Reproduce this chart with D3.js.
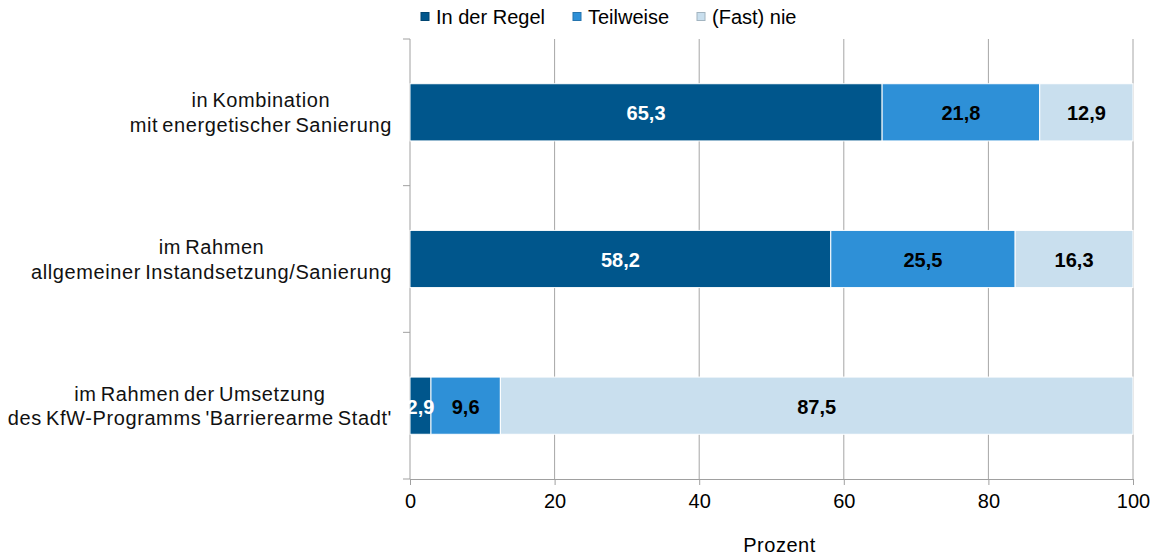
<!DOCTYPE html>
<html>
<head>
<meta charset="utf-8">
<script src="https://cdn.jsdelivr.net/npm/d3@7"></script>
<style>
  html, body { margin: 0; padding: 0; background: #fff; }
  svg { display: block; font-family: "Liberation Sans", Arial, sans-serif; }
</style>
</head>
<body>
<svg id="chart" width="1158" height="555"></svg>
<script>
// Categories (each label split into two lines)
const categories = [
  ["in Kombination", "mit energetischer Sanierung"],
  ["im Rahmen", "allgemeiner Instandsetzung/Sanierung"],
  ["im Rahmen der Umsetzung", "des KfW-Programms 'Barrierearme Stadt'"]
];
const seriesNames = ["In der Regel", "Teilweise", "(Fast) nie"];
const inDerRegel = [65.3, 58.2, 2.9];
const teilweise = [21.8, 25.5, 9.6];
const fastNie = [12.9, 16.3, 87.5];
const xTicks = [0, 20, 40, 60, 80, 100];
const colors = ["#00568c", "#2e90d7", "#c9dfee"];
const labelColors = ["#ffffff", "#000000", "#000000"];

const svg = d3.select("#chart");
const margin = { left: 410, right: 25, top: 39, bottom: 76 };
const W = 1158, H = 555;

const x = d3.scaleLinear().domain([0, 100]).range([margin.left, W - margin.right]);
const y = d3.scaleBand().domain(d3.range(categories.length))
  .range([margin.top, H - margin.bottom]).paddingInner(0.61).paddingOuter(0.305);

const rows = categories.map((c, i) => ({ i, values: [inDerRegel[i], teilweise[i], fastNie[i]] }));
const stacked = d3.stack().keys([0, 1, 2]).value((d, k) => d.values[k])(rows);

// vertical gridlines
svg.append("g").selectAll("line").data(xTicks.filter(t => t > 0)).join("line")
  .attr("x1", d => x(d)).attr("x2", d => x(d))
  .attr("y1", margin.top).attr("y2", H - margin.bottom)
  .attr("stroke", "#a6a6a6").attr("stroke-width", 1);

// x axis
const xAxis = svg.append("g").attr("transform", `translate(0,${H - margin.bottom})`)
  .call(d3.axisBottom(x).tickValues(xTicks).tickSize(6).tickSizeOuter(0).tickPadding(9).tickFormat(d3.format("d")));
xAxis.select(".domain").attr("stroke", "#a0a0a0");
xAxis.selectAll(".tick line").attr("stroke", "#a0a0a0");
xAxis.selectAll(".tick text").attr("font-size", 20).attr("fill", "#000")
  .attr("font-family", "Liberation Sans, Arial, sans-serif");

// y axis line with boundary ticks
const yTop = margin.top, yBot = H - margin.bottom;
const step = (yBot - yTop) / categories.length;
svg.append("line").attr("x1", x(0)).attr("x2", x(0)).attr("y1", yTop).attr("y2", yBot)
  .attr("stroke", "#a0a0a0");
svg.append("g").selectAll("line").data(d3.range(categories.length + 1)).join("line")
  .attr("x1", x(0) - 7).attr("x2", x(0))
  .attr("y1", d => yTop + d * step).attr("y2", d => yTop + d * step)
  .attr("stroke", "#a0a0a0");

// category labels: block right-aligned next to the axis, lines centred within the block
const labelRight = 392;
const catG = svg.append("g");
categories.forEach((lines, i) => {
  const cy = y(i) + y.bandwidth() / 2;
  const t = catG.append("text").attr("text-anchor", "middle")
    .attr("font-size", 20).attr("fill", "#111")
    .attr("letter-spacing", "0.6").attr("word-spacing", "-2");
  const spans = lines.map((ln, j) =>
    t.append("tspan").attr("y", cy - 5 + j * 24.5).text(ln));
  const maxW = d3.max(spans, s => s.node().getComputedTextLength());
  spans.forEach(s => s.attr("x", labelRight - maxW / 2));
});

// bars
const layers = svg.append("g").selectAll("g").data(stacked).join("g")
  .attr("fill", (d, k) => colors[k]);
layers.selectAll("rect").data(d => d).join("rect")
  .attr("x", d => x(d[0]))
  .attr("width", d => x(d[1]) - x(d[0]))
  .attr("y", d => y(d.data.i))
  .attr("height", y.bandwidth())
  .attr("stroke", "#ffffff").attr("stroke-width", 1);

// value labels
stacked.forEach((layer, k) => {
  svg.append("g").selectAll("text").data(layer).join("text")
    .attr("x", d => (x(d[0]) + x(d[1])) / 2)
    .attr("y", d => y(d.data.i) + y.bandwidth() / 2 + 8)
    .attr("text-anchor", "middle")
    .attr("font-size", 20).attr("font-weight", "bold")
    .attr("fill", labelColors[k])
    .text(d => d3.format(".1f")(d.data.values[k]).replace(".", ","));
});

// x axis title
svg.append("text").attr("x", (x(0) + x(100)) / 2 + 8).attr("y", 552)
  .attr("text-anchor", "middle").attr("font-size", 20).attr("fill", "#000")
  .attr("letter-spacing", "0.5")
  .text("Prozent");

// legend
const legendX = [421, 573, 697];
const lg = svg.append("g");
seriesNames.forEach((name, k) => {
  lg.append("rect").attr("x", legendX[k]).attr("y", 12.5).attr("width", 8).attr("height", 8)
    .attr("fill", colors[k]).attr("stroke", d3.color(colors[k]).darker(0.6)).attr("stroke-width", 1);
  lg.append("text").attr("x", legendX[k] + 15).attr("y", 24).attr("font-size", 20)
    .attr("fill", "#000").text(name);
});
</script>
</body>
</html>
